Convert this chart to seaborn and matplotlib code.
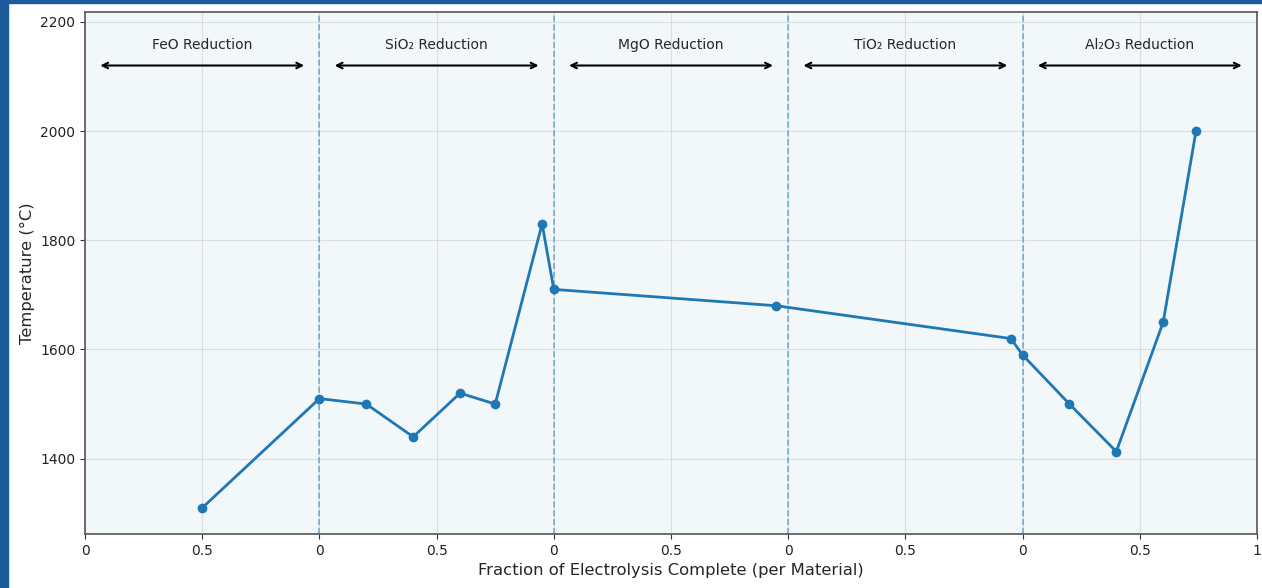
import matplotlib
matplotlib.use("Agg")
import matplotlib.pyplot as plt
from matplotlib.patches import Rectangle
import seaborn as sns
import pandas as pd

# Reduction stages, in processing order
materials = ["FeO", "SiO₂", "MgO", "TiO₂", "Al₂O₃"]

# Cumulative progress (stage index + fraction of that stage complete)
progress = [0.5, 1.0, 1.2, 1.4, 1.6, 1.75, 1.95, 2.0, 2.95, 3.95, 4.0, 4.2, 4.4, 4.6, 4.74]
# Melt temperature (°C)
temperature = [1310, 1510, 1500, 1440, 1520, 1500, 1830, 1710, 1680, 1620, 1590, 1500, 1413, 1650, 2000]

tick_positions = [0, 0.5, 1, 1.5, 2, 2.5, 3, 3.5, 4, 4.5, 5]
tick_labels = ["0", "0.5", "0", "0.5", "0", "0.5", "0", "0.5", "0", "0.5", "1"]

df = pd.DataFrame({"progress": progress, "temperature": temperature})

sns.set_style("ticks")
plt.rcParams["font.family"] = ["DejaVu Sans"]

fig = plt.figure(figsize=(12.62, 5.88), dpi=100)
ax = fig.add_axes([0.0674, 0.0918, 0.9286, 0.8878])
ax.set_facecolor("#f2f7fa")

# Frame strip along the left and top edges
fig.patches.append(Rectangle((0, 0), 8 / 1262, 1, transform=fig.transFigure,
                             color="#1d5c9c", zorder=0))
fig.patches.append(Rectangle((0, 1 - 3 / 588), 1, 3 / 588, transform=fig.transFigure,
                             color="#1d5c9c", zorder=0))

ax.grid(True, color="#d5d9dc", linewidth=0.8, alpha=0.8)
ax.set_axisbelow(True)

sns.lineplot(data=df, x="progress", y="temperature", sort=False, ax=ax,
             color="#1f77b4", linewidth=2, marker="o", markersize=7,
             markeredgewidth=0, zorder=3)

# Stage boundaries
for b in range(1, len(materials)):
    ax.axvline(b, color="#1f77b4", linestyle="--", linewidth=1.2, alpha=0.55, zorder=2)

# Stage labels with span arrows
for i, m in enumerate(materials):
    ax.annotate("", xy=(i + 0.065, 2120), xytext=(i + 0.935, 2120),
                arrowprops=dict(arrowstyle="<->", color="black", lw=1.5,
                                shrinkA=0, shrinkB=0))
    ax.text(i + 0.5, 2158, f"{m} Reduction", ha="center", va="center", fontsize=10)

ax.set_xlim(0, 5)
ax.set_ylim(1262, 2218)
ax.set_yticks([1400, 1600, 1800, 2000, 2200])
ax.set_xticks(tick_positions)
ax.set_xticklabels(tick_labels)
ax.tick_params(labelsize=10, colors="#333333", labelcolor="#222222")
for s in ax.spines.values():
    s.set_color("#555555")
    s.set_linewidth(1.2)

ax.set_xlabel("Fraction of Electrolysis Complete (per Material)", fontsize=11.8, labelpad=4)
ax.set_ylabel("Temperature (°C)", fontsize=11.8)

fig.savefig("out.png", dpi=100)
